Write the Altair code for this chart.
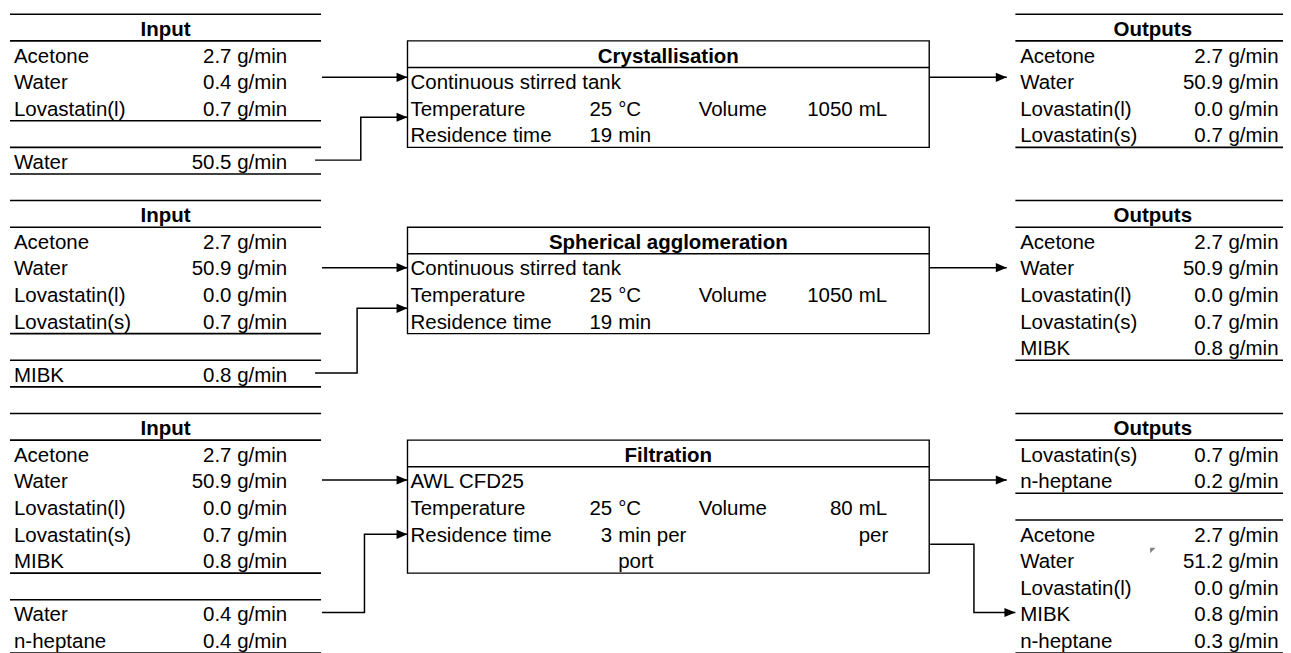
import altair as alt
import pandas as pd

# ---------------- data ----------------
step_titles = ["Crystallisation", "Spherical agglomeration", "Filtration"]
equipment = ["Continuous stirred tank", "Continuous stirred tank", "AWL CFD25"]
temperature_c = [25, 25, 25]
volume_ml = [1050, 1050, 80]
residence_min = [19, 19, 3]
residence_unit = [["min"], ["min"], ["min per", "port"]]
volume_unit = [["mL"], ["mL"], ["mL", "per"]]

in1_names = ["Acetone", "Water", "Lovastatin(l)"]
in1_values = [2.7, 0.4, 0.7]
add1_names = ["Water"]
add1_values = [50.5]
out1_names = ["Acetone", "Water", "Lovastatin(l)", "Lovastatin(s)"]
out1_values = [2.7, 50.9, 0.0, 0.7]

in2_names = ["Acetone", "Water", "Lovastatin(l)", "Lovastatin(s)"]
in2_values = [2.7, 50.9, 0.0, 0.7]
add2_names = ["MIBK"]
add2_values = [0.8]
out2_names = ["Acetone", "Water", "Lovastatin(l)", "Lovastatin(s)", "MIBK"]
out2_values = [2.7, 50.9, 0.0, 0.7, 0.8]

in3_names = ["Acetone", "Water", "Lovastatin(l)", "Lovastatin(s)", "MIBK"]
in3_values = [2.7, 50.9, 0.0, 0.7, 0.8]
add3_names = ["Water", "n-heptane"]
add3_values = [0.4, 0.4]
cake3_names = ["Lovastatin(s)", "n-heptane"]
cake3_values = [0.7, 0.2]
filtrate3_names = ["Acetone", "Water", "Lovastatin(l)", "MIBK", "n-heptane"]
filtrate3_values = [2.7, 51.2, 0.0, 0.8, 0.3]

flow_unit = "g/min"

# ---------------- layout ----------------
W, H = 1283, 645
PAGE = 8
ROW_TOP, ROW_H = 12.3, 26.78
BASE = 1 - 5 / ROW_H
FONT = "Liberation Sans"
FS = 20.6

LEFT = dict(x0=10, x1=323, name=14, val=289, head=166.5)
RIGHT = dict(x0=1021.7, x1=1300, name=1026.5, val=1286.5, head=1160)
BOX = dict(x0=410, x1=935, label=413, num=616, unit=622, vlabel=703, vnum=858, vunit=864)

feed_dy = [2.37, 2.52, 2.5]
add_target_dy = [3.87, 4.05, 4.54]
add_elbow_x = [363, 359.3, 366.7]
add_start_x = [317, 317, 324]
prod_tip_x = 1013
filt_elbow_x = 980

rules, rects, lines, heads = [], [], [], []
txt_l, txt_r, txt_c = [], [], []


def table(start, groups, header, c):
    txt_c.append(dict(x=c["head"], y=start + BASE, t=header))
    rules.append(dict(x=c["x0"], x2=c["x1"], y=start))
    rules.append(dict(x=c["x0"], x2=c["x1"], y=start + 1))
    r = start + 1
    firsts = []
    for gi, (names, vals) in enumerate(groups):
        if gi > 0:
            r += 1
            rules.append(dict(x=c["x0"], x2=c["x1"], y=r))
        firsts.append(r)
        for n, v in zip(names, vals):
            txt_l.append(dict(x=c["name"], y=r + BASE, t=n))
            txt_r.append(dict(x=c["val"], y=r + BASE, t=f"{v:.1f} {flow_unit}"))
            r += 1
        rules.append(dict(x=c["x0"], x2=c["x1"], y=r))
    return r, firsts


def box(start, i):
    top = start + 1
    nrows = max(2 + len(volume_unit[i]), 3 + len(residence_unit[i]))
    rects.append(dict(x=BOX["x0"], x2=BOX["x1"], y=top, y2=top + nrows))
    rules.append(dict(x=BOX["x0"], x2=BOX["x1"], y=top + 1))
    txt_c.append(dict(x=(BOX["x0"] + BOX["x1"]) / 2, y=top + BASE, t=step_titles[i]))
    txt_l.append(dict(x=BOX["label"], y=top + 1 + BASE, t=equipment[i]))
    txt_l.append(dict(x=BOX["label"], y=top + 2 + BASE, t="Temperature"))
    txt_r.append(dict(x=BOX["num"], y=top + 2 + BASE, t=str(temperature_c[i])))
    txt_l.append(dict(x=BOX["unit"], y=top + 2 + BASE, t="°C"))
    txt_l.append(dict(x=BOX["vlabel"], y=top + 2 + BASE, t="Volume"))
    txt_r.append(dict(x=BOX["vnum"], y=top + 2 + BASE, t=str(volume_ml[i])))
    for k, u in enumerate(volume_unit[i]):
        txt_l.append(dict(x=BOX["vunit"], y=top + 2 + k + BASE, t=u))
    txt_l.append(dict(x=BOX["label"], y=top + 3 + BASE, t="Residence time"))
    txt_r.append(dict(x=BOX["num"], y=top + 3 + BASE, t=str(residence_min[i])))
    for k, u in enumerate(residence_unit[i]):
        txt_l.append(dict(x=BOX["unit"], y=top + 3 + k + BASE, t=u))
    return top + nrows


def connector(cid, pts):
    for o, (x, y) in enumerate(pts):
        lines.append(dict(cid=cid, o=o, x=x, y=y))
    heads.append(dict(x=pts[-1][0], y=pts[-1][1]))


inputs = [
    ((in1_names, in1_values), (add1_names, add1_values)),
    ((in2_names, in2_values), (add2_names, add2_values)),
    ((in3_names, in3_values), (add3_names, add3_values)),
]
outputs = [
    [(out1_names, out1_values)],
    [(out2_names, out2_values)],
    [(cake3_names, cake3_values), (filtrate3_names, filtrate3_values)],
]

start = 0
for i in range(3):
    in_end, in_first = table(start, list(inputs[i]), "Input", LEFT)
    out_end, out_first = table(start, outputs[i], "Outputs", RIGHT)
    box_end = box(start, i)
    fy = start + feed_dy[i]
    connector(f"feed{i}", [(LEFT["x1"] + 1, fy), (BOX["x0"], fy)])
    sy = in_first[1] + 0.48
    ty = start + add_target_dy[i]
    connector(f"add{i}", [(add_start_x[i], sy), (add_elbow_x[i], sy),
                          (add_elbow_x[i], ty), (BOX["x0"], ty)])
    connector(f"prod{i}", [(BOX["x1"], fy), (prod_tip_x, fy)])
    if len(outputs[i]) > 1:
        ry = start + 4.918
        my = out_first[1] + filtrate3_names.index("MIBK") + 0.479
        connector(f"filt{i}", [(BOX["x1"] + 1, ry), (filt_elbow_x, ry),
                               (filt_elbow_x, my), (RIGHT["x0"], my)])
    start = max(in_end, out_end, box_end) + 1

# Excel cell indicator (small grey corner mark)
marks_df = pd.DataFrame([dict(x=1160, y=20.146)])

# ---------------- scales ----------------
xs = alt.Scale(domain=[PAGE, PAGE + W], nice=False, zero=False)
ys = alt.Scale(domain=[(PAGE - ROW_TOP) / ROW_H, (PAGE + H - ROW_TOP) / ROW_H],
               nice=False, zero=False, reverse=True)
X = lambda f="x": alt.X(f"{f}:Q", scale=xs, axis=None)
Y = lambda f="y": alt.Y(f"{f}:Q", scale=ys, axis=None)

rule_layer = alt.Chart(pd.DataFrame(rules)).mark_rule(
    color="black", strokeWidth=1.6).encode(x=X(), x2="x2:Q", y=Y())
rect_layer = alt.Chart(pd.DataFrame(rects)).mark_rect(
    fillOpacity=0, stroke="black", strokeWidth=1.4).encode(
    x=X(), x2="x2:Q", y=Y(), y2="y2:Q")
line_layer = alt.Chart(pd.DataFrame(lines)).mark_line(
    color="black", strokeWidth=1.5).encode(
    x=X(), y=Y(), detail="cid:N", order="o:Q")
head_layer = alt.Chart(pd.DataFrame(heads)).mark_point(
    shape="M0,0L-1,-0.42L-1,0.42Z", filled=True, size=484, color="black",
    opacity=1, strokeWidth=0).encode(x=X(), y=Y())
ind_layer = alt.Chart(marks_df).mark_point(
    shape="M-1,-1L1,-1L-1,1Z", filled=True, size=30, color="#808080",
    opacity=1, strokeWidth=0).encode(x=X(), y=Y())


def text_layer(rows, align, weight):
    return alt.Chart(pd.DataFrame(rows)).mark_text(
        align=align, baseline="alphabetic", font=FONT, fontSize=FS,
        fontWeight=weight, color="black").encode(x=X(), y=Y(), text="t:N")


chart = alt.layer(
    rule_layer, rect_layer, line_layer, head_layer, ind_layer,
    text_layer(txt_l, "left", "normal"),
    text_layer(txt_r, "right", "normal"),
    text_layer(txt_c, "center", "bold"),
).properties(
    width=W, height=H, padding=0, autosize=alt.AutoSizeParams(type="none")
).configure_view(strokeWidth=0)

chart.save("out.html", embed_options={"renderer": "svg", "actions": False})
